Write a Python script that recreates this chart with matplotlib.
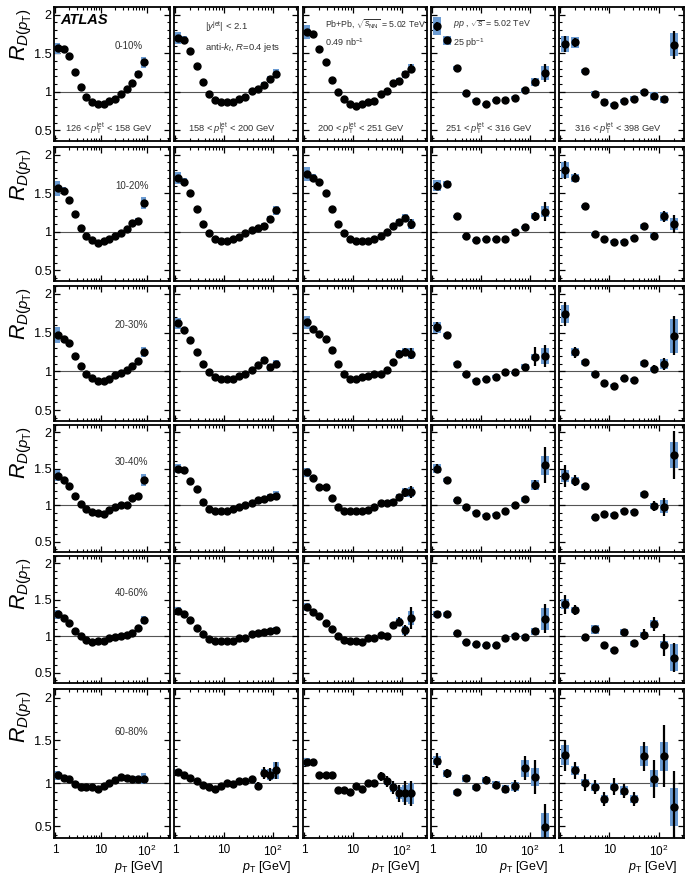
import numpy as np
import matplotlib
matplotlib.use("Agg")
import matplotlib.pyplot as plt
from matplotlib.ticker import FixedLocator, MultipleLocator, LogLocator, NullFormatter

plt.rcParams['font.family'] = 'Liberation Sans'
plt.rcParams['mathtext.fontset'] = 'custom'
plt.rcParams['mathtext.rm'] = 'Liberation Sans'
plt.rcParams['mathtext.it'] = 'Liberation Sans:italic'
plt.rcParams['mathtext.bf'] = 'Liberation Sans:bold'

centralities = ["0-10%", "10-20%", "20-30%", "30-40%", "40-60%", "60-80%"]
jet_bins = [("126", "158"), ("158", "200"), ("200", "251"), ("251", "316"), ("316", "398")]

# track pT bin centres [GeV]
pt_c1 = [1.15, 1.54, 2.05, 2.74, 3.65, 4.87, 6.49, 8.66, 11.5, 15.4, 20.5, 27.4, 36.5, 48.7, 64.9, 86.6]
pt_c2 = [1.15, 1.54, 2.05, 2.74, 3.65, 4.87, 6.49, 8.66, 11.5, 15.4, 20.5, 27.4, 36.5, 48.7, 64.9, 86.6, 115]
pt_c3 = [1.15, 1.54, 2.05, 2.74, 3.65, 4.87, 6.49, 8.66, 11.5, 15.4, 20.5, 27.4, 36.5, 48.7, 64.9, 86.6, 115, 154]
pt_c4 = [1.26, 2.0, 3.16, 5.01, 7.94, 12.6, 20.0, 31.6, 50.1, 79.4, 126, 200]
pt_c5 = [1.26, 2.0, 3.16, 5.01, 7.94, 12.6, 20.0, 31.6, 50.1, 79.4, 126, 200]

# R_D(pT) values, one list per centrality row
rd_c1 = [
    [1.565, 1.55, 1.46, 1.25, 1.06, 0.935, 0.87, 0.845, 0.845, 0.88, 0.91, 0.965, 1.03, 1.11, 1.225, 1.38],
    [1.565, 1.535, 1.41, 1.226, 1.05, 0.948, 0.89, 0.857, 0.878, 0.904, 0.943, 0.987, 1.03, 1.117, 1.143, 1.37],
    [1.47, 1.42, 1.37, 1.2, 1.07, 0.97, 0.92, 0.88, 0.88, 0.9, 0.95, 0.98, 1.02, 1.07, 1.13, 1.25],
    [1.407, 1.352, 1.27, 1.13, 1.014, 0.954, 0.912, 0.898, 0.875, 0.935, 0.972, 1.0, 1.009, 1.093, 1.13, 1.343],
    [1.30, 1.255, 1.176, 1.07, 1.01, 0.954, 0.92, 0.94, 0.94, 0.972, 0.986, 1.0, 1.014, 1.046, 1.116, 1.222],
    [1.092, 1.065, 1.046, 0.988, 0.958, 0.958, 0.958, 0.938, 0.969, 1.008, 1.035, 1.077, 1.058, 1.054, 1.046, 1.054],
]
rd_c2 = [
    [1.70, 1.67, 1.535, 1.33, 1.12, 0.965, 0.89, 0.865, 0.86, 0.87, 0.91, 0.935, 1.01, 1.04, 1.09, 1.16, 1.235],
    [1.70, 1.65, 1.50, 1.30, 1.10, 0.98, 0.90, 0.88, 0.88, 0.90, 0.93, 0.98, 1.02, 1.05, 1.08, 1.16, 1.28],
    [1.62, 1.53, 1.40, 1.25, 1.10, 0.99, 0.93, 0.90, 0.90, 0.90, 0.94, 0.97, 1.02, 1.08, 1.15, 1.05, 1.10],
    [1.50, 1.48, 1.33, 1.22, 1.05, 0.95, 0.92, 0.92, 0.92, 0.95, 0.97, 1.00, 1.03, 1.07, 1.09, 1.12, 1.13],
    [1.35, 1.30, 1.22, 1.12, 1.03, 0.96, 0.94, 0.93, 0.94, 0.94, 0.97, 0.98, 1.03, 1.05, 1.06, 1.07, 1.08],
    [1.13, 1.09, 1.06, 1.03, 0.98, 0.96, 0.93, 0.97, 1.00, 0.99, 1.03, 1.03, 1.05, 0.97, 1.12, 1.10, 1.15],
]
rd_c3 = [
    [1.77, 1.75, 1.56, 1.39, 1.15, 1.0, 0.90, 0.845, 0.82, 0.845, 0.86, 0.88, 0.965, 1.01, 1.11, 1.14, 1.225, 1.30],
    [1.75, 1.70, 1.65, 1.50, 1.30, 1.10, 0.98, 0.90, 0.88, 0.88, 0.88, 0.90, 0.95, 1.00, 1.07, 1.12, 1.18, 1.10],
    [1.63, 1.55, 1.48, 1.42, 1.28, 1.10, 0.96, 0.90, 0.90, 0.93, 0.94, 0.97, 0.96, 1.02, 1.12, 1.23, 1.25, 1.23],
    [1.45, 1.38, 1.25, 1.25, 1.10, 0.97, 0.92, 0.92, 0.92, 0.92, 0.93, 0.97, 1.03, 1.03, 1.05, 1.12, 1.18, 1.18],
    [1.40, 1.33, 1.28, 1.18, 1.10, 1.00, 0.95, 0.93, 0.93, 0.92, 0.98, 0.97, 1.02, 1.00, 1.15, 1.20, 1.08, 1.25],
    [1.25, 1.25, 1.10, 1.10, 1.10, 0.92, 0.92, 0.90, 0.97, 0.93, 1.00, 1.00, 1.08, 1.02, 0.95, 0.88, 0.88, 0.88],
]
rd_c4 = [
    [1.85, 1.665, 1.31, 0.98, 0.88, 0.835, 0.887, 0.89, 0.92, 1.017, 1.126, 1.24],
    [1.60, 1.62, 1.20, 0.94, 0.89, 0.90, 0.90, 0.91, 1.00, 1.06, 1.20, 1.26],
    [1.57, 1.47, 1.10, 0.96, 0.88, 0.90, 0.93, 0.99, 0.99, 1.06, 1.19, 1.20],
    [1.50, 1.35, 1.07, 0.97, 0.90, 0.86, 0.87, 0.92, 1.00, 1.08, 1.28, 1.55],
    [1.30, 1.30, 1.04, 0.92, 0.89, 0.88, 0.88, 0.98, 1.01, 0.99, 1.07, 1.24],
    [1.265, 1.115, 0.892, 1.058, 0.95, 1.035, 0.98, 0.93, 0.962, 1.173, 1.073, 0.488],
]
rd_c5 = [
    [1.617, 1.643, 1.27, 0.974, 0.87, 0.826, 0.878, 0.909, 0.996, 0.943, 0.90, 1.61],
    [1.80, 1.70, 1.33, 0.97, 0.90, 0.87, 0.87, 0.92, 1.07, 0.95, 1.20, 1.10],
    [1.74, 1.245, 1.116, 0.966, 0.85, 0.815, 0.91, 0.888, 1.103, 1.026, 1.094, 1.46],
    [1.398, 1.338, 1.26, 0.833, 0.88, 0.866, 0.926, 0.912, 1.148, 0.99, 0.98, 1.69],
    [1.44, 1.36, 0.986, 1.093, 0.88, 0.815, 1.056, 0.903, 1.023, 1.17, 0.884, 0.708],
    [1.327, 1.15, 1.008, 0.958, 0.815, 0.958, 0.912, 0.815, 1.315, 1.05, 1.315, 0.72],
]

# statistical uncertainties
stat_c1 = [
    [0.01] * 16, [0.01] * 16, [0.01] * 16, [0.01] * 16, [0.01] * 16,
    [0.01, 0.01, 0.01, 0.01, 0.01, 0.01, 0.01, 0.01, 0.01, 0.01, 0.01, 0.01, 0.02, 0.02, 0.02, 0.03],
]
stat_c2 = [
    [0.01, 0.01, 0.01, 0.01, 0.01, 0.01, 0.01, 0.01, 0.01, 0.01, 0.01, 0.01, 0.01, 0.01, 0.01, 0.02, 0.02],
    [0.01, 0.01, 0.01, 0.01, 0.01, 0.01, 0.01, 0.01, 0.01, 0.01, 0.01, 0.01, 0.01, 0.01, 0.02, 0.02, 0.03],
    [0.01, 0.01, 0.01, 0.01, 0.01, 0.01, 0.01, 0.01, 0.01, 0.01, 0.01, 0.01, 0.01, 0.02, 0.02, 0.03, 0.03],
    [0.01, 0.01, 0.01, 0.01, 0.01, 0.01, 0.01, 0.01, 0.01, 0.01, 0.01, 0.01, 0.01, 0.02, 0.02, 0.03, 0.04],
    [0.01, 0.01, 0.01, 0.01, 0.01, 0.01, 0.01, 0.01, 0.01, 0.01, 0.01, 0.01, 0.01, 0.02, 0.02, 0.03, 0.04],
    [0.02, 0.02, 0.01, 0.01, 0.01, 0.01, 0.01, 0.01, 0.01, 0.02, 0.02, 0.02, 0.03, 0.04, 0.07, 0.08, 0.10],
]
stat_c3 = [
    [0.01, 0.01, 0.01, 0.01, 0.01, 0.01, 0.01, 0.01, 0.01, 0.01, 0.01, 0.01, 0.01, 0.01, 0.02, 0.02, 0.03, 0.06],
    [0.01, 0.01, 0.01, 0.01, 0.01, 0.01, 0.01, 0.01, 0.01, 0.01, 0.01, 0.01, 0.01, 0.02, 0.02, 0.03, 0.04, 0.06],
    [0.01, 0.01, 0.01, 0.01, 0.01, 0.01, 0.01, 0.01, 0.01, 0.01, 0.01, 0.01, 0.01, 0.02, 0.02, 0.04, 0.05, 0.07],
    [0.01, 0.01, 0.01, 0.01, 0.01, 0.01, 0.01, 0.01, 0.01, 0.01, 0.01, 0.01, 0.02, 0.02, 0.03, 0.04, 0.06, 0.08],
    [0.01, 0.01, 0.01, 0.01, 0.01, 0.01, 0.01, 0.01, 0.01, 0.01, 0.02, 0.02, 0.02, 0.03, 0.04, 0.06, 0.08, 0.15],
    [0.03, 0.02, 0.02, 0.02, 0.02, 0.02, 0.02, 0.02, 0.02, 0.03, 0.03, 0.04, 0.05, 0.06, 0.08, 0.10, 0.14, 0.15],
]
stat_c4 = [
    [0.06, 0.02, 0.02, 0.02, 0.02, 0.02, 0.02, 0.02, 0.02, 0.03, 0.05, 0.12],
    [0.05, 0.03, 0.02, 0.02, 0.02, 0.02, 0.02, 0.02, 0.02, 0.03, 0.06, 0.12],
    [0.06, 0.03, 0.02, 0.02, 0.02, 0.02, 0.02, 0.02, 0.02, 0.03, 0.12, 0.14],
    [0.06, 0.03, 0.02, 0.02, 0.02, 0.02, 0.02, 0.02, 0.02, 0.04, 0.07, 0.25],
    [0.04, 0.03, 0.02, 0.02, 0.02, 0.02, 0.02, 0.02, 0.02, 0.03, 0.05, 0.20],
    [0.085, 0.05, 0.03, 0.04, 0.04, 0.05, 0.05, 0.05, 0.07, 0.14, 0.20, 0.27],
]
stat_c5 = [
    [0.10, 0.06, 0.03, 0.02, 0.02, 0.02, 0.02, 0.02, 0.02, 0.03, 0.04, 0.18],
    [0.12, 0.06, 0.02, 0.02, 0.02, 0.02, 0.02, 0.02, 0.03, 0.04, 0.07, 0.12],
    [0.15, 0.07, 0.03, 0.02, 0.02, 0.02, 0.02, 0.02, 0.04, 0.05, 0.08, 0.25],
    [0.15, 0.08, 0.04, 0.02, 0.02, 0.02, 0.02, 0.02, 0.05, 0.07, 0.12, 0.33],
    [0.13, 0.07, 0.03, 0.03, 0.03, 0.03, 0.03, 0.04, 0.08, 0.10, 0.15, 0.20],
    [0.18, 0.10, 0.10, 0.08, 0.08, 0.10, 0.08, 0.08, 0.17, 0.22, 0.36, 0.42],
]

# systematic uncertainties (boxes)
syst_c1 = [
    [0.07, 0.04, 0.02, 0.01, 0.01, 0.01, 0.01, 0.01, 0.01, 0.01, 0.01, 0.01, 0.02, 0.02, 0.04, 0.07],
    [0.10, 0.05, 0.03, 0.01, 0.01, 0.01, 0.01, 0.01, 0.01, 0.01, 0.01, 0.01, 0.02, 0.02, 0.03, 0.08],
    [0.10, 0.04, 0.02, 0.01, 0.01, 0.01, 0.01, 0.01, 0.01, 0.01, 0.01, 0.01, 0.02, 0.02, 0.03, 0.06],
    [0.08, 0.04, 0.02, 0.01, 0.01, 0.01, 0.01, 0.01, 0.01, 0.01, 0.01, 0.01, 0.02, 0.02, 0.03, 0.08],
    [0.06, 0.03, 0.02, 0.01, 0.01, 0.01, 0.01, 0.01, 0.01, 0.01, 0.01, 0.01, 0.02, 0.02, 0.03, 0.06],
    [0.05, 0.03, 0.02, 0.01, 0.01, 0.01, 0.01, 0.01, 0.01, 0.01, 0.01, 0.01, 0.02, 0.02, 0.04, 0.06],
]
syst_c2 = [
    [0.08, 0.05, 0.03, 0.02, 0.01, 0.01, 0.01, 0.01, 0.01, 0.01, 0.01, 0.01, 0.02, 0.02, 0.03, 0.04, 0.06],
    [0.08, 0.05, 0.03, 0.02, 0.01, 0.01, 0.01, 0.01, 0.01, 0.01, 0.01, 0.01, 0.02, 0.02, 0.03, 0.04, 0.06],
    [0.07, 0.04, 0.03, 0.02, 0.01, 0.01, 0.01, 0.01, 0.01, 0.01, 0.01, 0.01, 0.02, 0.02, 0.03, 0.04, 0.05],
    [0.06, 0.04, 0.02, 0.02, 0.01, 0.01, 0.01, 0.01, 0.01, 0.01, 0.01, 0.01, 0.02, 0.02, 0.03, 0.04, 0.06],
    [0.05, 0.03, 0.02, 0.02, 0.01, 0.01, 0.01, 0.01, 0.01, 0.01, 0.01, 0.01, 0.02, 0.02, 0.03, 0.03, 0.05],
    [0.04, 0.03, 0.02, 0.02, 0.01, 0.01, 0.01, 0.01, 0.01, 0.01, 0.01, 0.02, 0.02, 0.03, 0.05, 0.06, 0.10],
]
syst_c3 = [
    [0.09, 0.04, 0.03, 0.02, 0.01, 0.01, 0.01, 0.01, 0.01, 0.01, 0.01, 0.01, 0.02, 0.02, 0.03, 0.04, 0.05, 0.06],
    [0.09, 0.05, 0.03, 0.02, 0.01, 0.01, 0.01, 0.01, 0.01, 0.01, 0.01, 0.01, 0.02, 0.02, 0.03, 0.04, 0.05, 0.06],
    [0.08, 0.04, 0.03, 0.02, 0.01, 0.01, 0.01, 0.01, 0.01, 0.01, 0.01, 0.01, 0.02, 0.02, 0.03, 0.04, 0.05, 0.07],
    [0.06, 0.04, 0.03, 0.02, 0.01, 0.01, 0.01, 0.01, 0.01, 0.01, 0.01, 0.01, 0.02, 0.02, 0.03, 0.04, 0.06, 0.07],
    [0.06, 0.04, 0.03, 0.02, 0.01, 0.01, 0.01, 0.01, 0.01, 0.01, 0.01, 0.01, 0.02, 0.02, 0.03, 0.05, 0.06, 0.10],
    [0.05, 0.03, 0.02, 0.02, 0.01, 0.01, 0.01, 0.01, 0.01, 0.02, 0.02, 0.02, 0.03, 0.04, 0.05, 0.07, 0.10, 0.12],
]
syst_c4 = [
    [0.12, 0.06, 0.03, 0.02, 0.02, 0.02, 0.02, 0.02, 0.02, 0.03, 0.05, 0.09],
    [0.07, 0.04, 0.02, 0.02, 0.02, 0.02, 0.02, 0.02, 0.02, 0.02, 0.04, 0.07],
    [0.07, 0.03, 0.02, 0.02, 0.02, 0.02, 0.02, 0.02, 0.02, 0.03, 0.04, 0.10],
    [0.06, 0.03, 0.02, 0.02, 0.02, 0.02, 0.02, 0.02, 0.02, 0.03, 0.07, 0.13],
    [0.04, 0.03, 0.02, 0.02, 0.02, 0.02, 0.02, 0.02, 0.02, 0.03, 0.05, 0.15],
    [0.05, 0.04, 0.03, 0.04, 0.03, 0.04, 0.04, 0.05, 0.05, 0.10, 0.10, 0.16],
]
syst_c5 = [
    [0.10, 0.07, 0.03, 0.03, 0.03, 0.03, 0.03, 0.03, 0.03, 0.05, 0.05, 0.15],
    [0.10, 0.05, 0.02, 0.02, 0.02, 0.02, 0.02, 0.02, 0.03, 0.03, 0.06, 0.08],
    [0.12, 0.05, 0.03, 0.02, 0.02, 0.02, 0.02, 0.02, 0.03, 0.03, 0.06, 0.22],
    [0.08, 0.05, 0.03, 0.02, 0.02, 0.03, 0.02, 0.02, 0.03, 0.04, 0.09, 0.18],
    [0.07, 0.04, 0.02, 0.06, 0.03, 0.03, 0.04, 0.03, 0.04, 0.05, 0.05, 0.18],
    [0.12, 0.05, 0.04, 0.05, 0.05, 0.04, 0.05, 0.05, 0.12, 0.10, 0.17, 0.22],
]

pts = [pt_c1, pt_c2, pt_c3, pt_c4, pt_c5]
vals = [rd_c1, rd_c2, rd_c3, rd_c4, rd_c5]
stats = [stat_c1, stat_c2, stat_c3, stat_c4, stat_c5]
systs = [syst_c1, syst_c2, syst_c3, syst_c4, syst_c5]
box_hw = [0.055, 0.055, 0.055, 0.08, 0.08]  # box half width in decades

W, H = 692, 881
col_px = [(54, 170), (174, 298), (303, 427), (431, 555), (559, 684)]
row_px = [(7, 141), (147, 281), (286, 421), (425, 552), (556, 683), (689, 838)]
box_color = "#6b9bd2"
txt_color = "#333333"

fig = plt.figure(figsize=(W / 100, H / 100), dpi=100)

for r in range(6):
    for c in range(5):
        x0, x1 = col_px[c]
        y0, y1 = row_px[r]
        ax = fig.add_axes([x0 / W, 1 - y1 / H, (x1 - x0) / W, (y1 - y0) / H])
        ax.set_xscale('log')
        ax.set_xlim(0.95, 325)
        ax.set_ylim(0.36, 2.1)
        ax.axhline(1, color='#555555', lw=0.8, zorder=1)

        x = np.array(pts[c])
        v = np.array(vals[c][r])
        st = np.array(stats[c][r])
        sy = np.array(systs[c][r])
        lo = x * 10 ** (-box_hw[c])
        hi = x * 10 ** (box_hw[c])
        ax.bar(lo, 2 * sy, width=hi - lo, bottom=v - sy, align='edge',
               color=box_color, lw=0, zorder=2)
        ax.errorbar(x, v, yerr=st, fmt='o', color='black', ms=5.0,
                    elinewidth=1.6, capsize=0, zorder=3)

        for s in ax.spines.values():
            s.set_linewidth(1.3)
        ax.tick_params(which='both', direction='in', top=True, right=True,
                       labelsize=9, pad=2)
        ax.tick_params(which='major', length=4.5, width=0.9)
        ax.tick_params(which='minor', length=2.3, width=0.8)
        ax.yaxis.set_major_locator(FixedLocator([0.5, 1, 1.5, 2]))
        ax.yaxis.set_minor_locator(MultipleLocator(0.1))
        ax.set_xticks([1, 10, 100])
        ax.xaxis.set_minor_locator(LogLocator(base=10, subs=np.arange(2, 10), numticks=12))
        ax.xaxis.set_minor_formatter(NullFormatter())
        if r == 5:
            ax.set_xticklabels(["1", "10", r"$10^{2}$"], fontsize=8.5)
            ax.tick_params(axis='x', pad=4)
        else:
            ax.set_xticklabels([])
        if c == 0:
            ax.set_yticklabels(["0.5", "1", "1.5", "2"], fontsize=9.2)
            ax.tick_params(axis='y', pad=1.5)
            ax.text(0.525, 0.71, centralities[r], transform=ax.transAxes,
                    fontsize=7, color=txt_color, ha='left', va='center')
        else:
            ax.set_yticklabels([])

        if r == 0:
            lo_b, hi_b = jet_bins[c]
            ax.text(0.47, 0.1, lo_b + r" < $p_{\mathrm{T}}^{\mathrm{jet}}$ < " + hi_b + " GeV",
                    transform=ax.transAxes, fontsize=6.7, color=txt_color,
                    ha='center', va='center')
            if c == 0:
                ax.text(0.05, 0.9, "ATLAS", transform=ax.transAxes, fontsize=10.5,
                        fontweight='bold', fontstyle='italic', ha='left', va='center')
            elif c == 1:
                ax.text(0.25, 0.85, r"$|y^{\mathrm{jet}}|$ < 2.1", transform=ax.transAxes,
                        fontsize=6.8, color=txt_color, ha='left', va='center')
                ax.text(0.25, 0.70, r"anti-$k_{t}$, $R$=0.4 jets", transform=ax.transAxes,
                        fontsize=6.8, color=txt_color, ha='left', va='center')
            elif c == 2:
                ax.text(0.18, 0.866, r"Pb+Pb, $\sqrt{s_{\mathrm{NN}}}$ = 5.02 TeV",
                        transform=ax.transAxes, fontsize=6.3, color=txt_color,
                        ha='left', va='center')
                ax.text(0.18, 0.74, r"0.49 nb$^{-1}$", transform=ax.transAxes,
                        fontsize=6.5, color=txt_color, ha='left', va='center')
            elif c == 3:
                ax.text(0.18, 0.866, r"$pp$ , $\sqrt{s}$ = 5.02 TeV",
                        transform=ax.transAxes, fontsize=6.4, color=txt_color,
                        ha='left', va='center')
                ax.text(0.18, 0.73, r"25 pb$^{-1}$", transform=ax.transAxes,
                        fontsize=6.5, color=txt_color, ha='left', va='center')

    # row y-axis title
    fig.text(34 / W, 1 - (row_px[r][0] + 1) / H, r"$R_{D(p_{\mathrm{T}})}$",
             rotation=90, ha='right', va='top', fontsize=15.5)

for c in range(5):
    fig.text((col_px[c][1] - 6) / W, 1 - 867 / H, r"$p_{\mathrm{T}}$ [GeV]",
             ha='right', va='center', fontsize=9)

fig.savefig("out.png", dpi=100)
